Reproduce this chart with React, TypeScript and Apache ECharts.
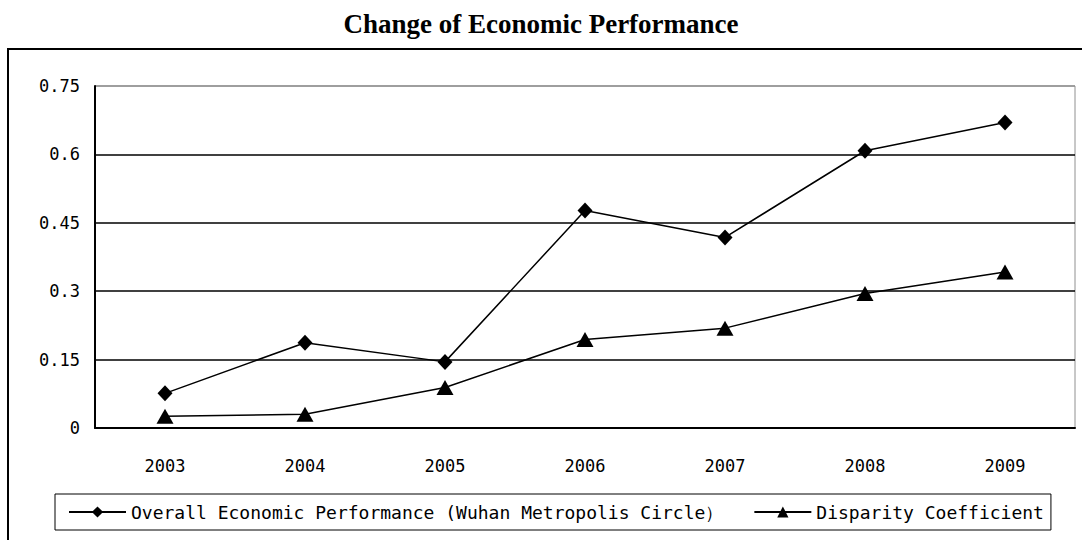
import React, { useEffect, useRef } from "react";
import * as echarts from "echarts";

const years = ["2003", "2004", "2005", "2006", "2007", "2008", "2009"];
const overallPerformance = [0.076, 0.187, 0.145, 0.477, 0.418, 0.608, 0.67];
const disparityCoefficient = [0.026, 0.03, 0.089, 0.194, 0.219, 0.295, 0.342];
const yTicks = [0, 0.15, 0.3, 0.45, 0.6, 0.75];
const seriesNames = [
  "Overall Economic Performance (Wuhan Metropolis Circle\uFF09",
  "Disparity Coefficient",
];
const titleText = "Change of Economic Performance";

const MONO = "'DejaVu Sans Mono', 'Liberation Mono', monospace";

export default function App() {
  const ref = useRef<HTMLDivElement>(null);
  useEffect(() => {
    if (!ref.current) return;
    const chart = echarts.init(ref.current, undefined, { renderer: "svg" });
    chart.setOption({
      animation: false,
      backgroundColor: "#fff",
      title: {
        text: titleText,
        left: "center",
        top: 5,
        textStyle: {
          fontFamily: "'Liberation Serif', 'Times New Roman', serif",
          fontWeight: "bold",
          fontSize: 27,
          color: "#000",
        },
      },
      graphic: [
        {
          type: "rect",
          shape: { x: 8, y: 49, width: 1200, height: 700 },
          style: { fill: "none", stroke: "#000", lineWidth: 2 },
          silent: true,
          z: -1,
        },
      ],
      grid: {
        left: 95,
        right: 7,
        top: 86,
        bottom: 112,
        show: true,
        borderColor: "#909090",
        borderWidth: 1,
        backgroundColor: "transparent",
      },
      legend: {
        left: 55,
        top: 494,
        itemWidth: 57,
        itemHeight: 14,
        itemGap: 30,
        padding: [9, 7, 9, 13],
        borderColor: "#000",
        borderWidth: 1,
        textStyle: { fontFamily: MONO, fontSize: 18, color: "#000" },
        data: seriesNames,
      },
      xAxis: {
        type: "category",
        data: years,
        boundaryGap: true,
        axisLine: { lineStyle: { color: "#000", width: 2 } },
        axisTick: { inside: true, length: 8, lineStyle: { color: "#000", width: 1.5 } },
        axisLabel: {
          fontFamily: MONO,
          fontSize: 17,
          color: "#000",
          margin: 29,
        },
        splitLine: { show: false },
      },
      yAxis: {
        type: "value",
        min: yTicks[0],
        max: yTicks[yTicks.length - 1],
        interval: yTicks[1] - yTicks[0],
        axisLine: { show: true, lineStyle: { color: "#000", width: 2 } },
        axisTick: { show: false },
        axisLabel: {
          fontFamily: MONO,
          fontSize: 17,
          color: "#000",
          margin: 15,
          padding: [12, 0, 0, 0],
          formatter: (v: number) => {
            const t = yTicks.find((x) => Math.abs(x - v) < 1e-6);
            return String(t !== undefined ? t : parseFloat(v.toFixed(2)));
          },
        },
        splitLine: {
          show: true,
          lineStyle: {
            color: ["#000", "#000", "#000", "#000", "#000", "#909090"],
            width: 1.5,
          },
        },
      },
      series: [
        {
          name: seriesNames[0],
          type: "line",
          data: overallPerformance,
          symbol: "diamond",
          symbolSize: [15, 16],
          itemStyle: { color: "#000" },
          lineStyle: { color: "#000", width: 1.5 },
        },
        {
          name: seriesNames[1],
          type: "line",
          data: disparityCoefficient,
          symbol: "triangle",
          symbolSize: [17, 15],
          itemStyle: { color: "#000" },
          lineStyle: { color: "#000", width: 1.5 },
        },
      ],
    });
    return () => chart.dispose();
  }, []);
  return (
    <div
      ref={ref}
      style={{ position: "fixed", left: 0, top: 0, width: 1082, height: 540 }}
    />
  );
}
